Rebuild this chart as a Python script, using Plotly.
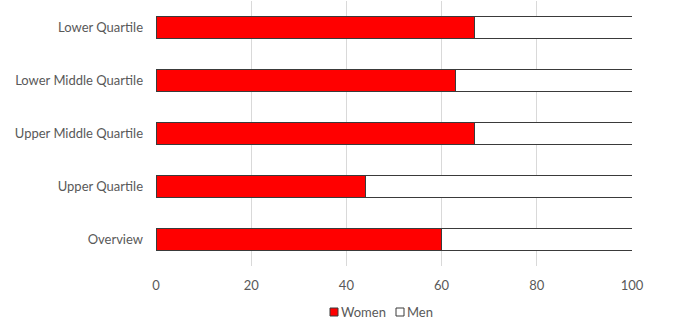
import plotly.graph_objects as go

categories = ["Lower Quartile", "Lower Middle Quartile", "Upper Middle Quartile",
              "Upper Quartile", "Overview"]
women = [67, 63, 67, 44, 60]
men = [100 - w for w in women]
x_ticks = [0, 20, 40, 60, 80, 100]

series = [("Women", women, "#FF0000"), ("Men", men, "#FFFFFF")]
outline = "#3a3a3a"
text_color = "#595959"
font_family = "Lato, 'Open Sans', sans-serif"

W, H = 678, 332
M = dict(l=156, r=46, t=1, b=66)
plot_w = W - M["l"] - M["r"]
plot_h = H - M["t"] - M["b"]


def px_x(px):
    return (px - M["l"]) / plot_w


def px_y(py):
    return (H - M["b"] - py) / plot_h


fig = go.Figure()
for name, vals, color in series:
    fig.add_trace(go.Bar(
        y=categories, x=vals, name=name, orientation="h",
        marker=dict(color=color, line=dict(color=outline, width=1)),
        cliponaxis=False,
    ))

# compact legend below the axis: small square swatch followed by its label
legend_left = [330, 396]
legend_mid = 312
for (name, _, color), left in zip(series, legend_left):
    fig.add_shape(
        type="rect", xref="paper", yref="paper",
        x0=px_x(left), x1=px_x(left + 8),
        y0=px_y(legend_mid + 4), y1=px_y(legend_mid - 4),
        fillcolor=color, line=dict(color=outline, width=1),
    )
    fig.add_annotation(
        xref="paper", yref="paper",
        x=px_x(left + 9), y=px_y(legend_mid),
        xanchor="left", yanchor="middle",
        text=name, showarrow=False,
        font=dict(size=13, color=text_color),
    )

fig.update_layout(
    width=W, height=H,
    barmode="stack",
    bargap=0.585,
    plot_bgcolor="white",
    paper_bgcolor="white",
    margin=M,
    font=dict(family=font_family, size=13, color=text_color),
    showlegend=False,
    xaxis=dict(
        range=[0, 100],
        tickvals=x_ticks,
        showgrid=True, gridcolor="#d9d9d9", gridwidth=1,
        zeroline=False, showline=False,
        ticks="", ticklabelstandoff=10,
        tickfont=dict(size=13, color=text_color),
    ),
    yaxis=dict(
        categoryorder="array", categoryarray=categories,
        autorange="reversed",
        showgrid=False, zeroline=False, showline=False,
        ticks="", ticklabelstandoff=12,
        tickfont=dict(size=13, color=text_color),
    ),
)

fig.write_html("out.html")
